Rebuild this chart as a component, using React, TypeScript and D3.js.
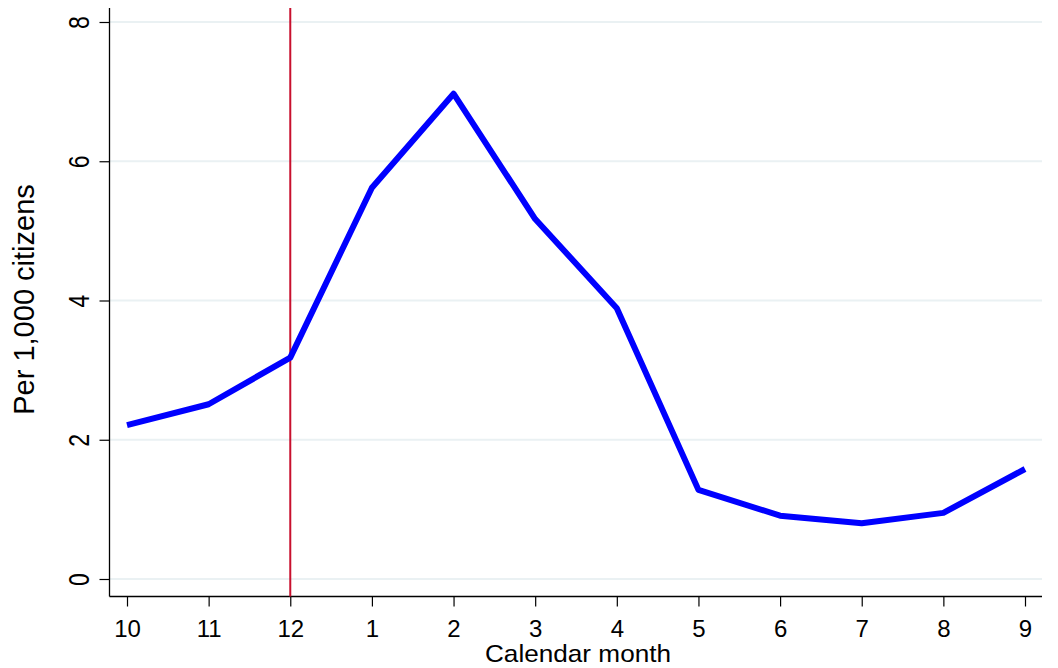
import React, { useRef, useEffect } from "react";
import * as d3 from "d3";

// calendar months, Oct through Sep
const months = ["10", "11", "12", "1", "2", "3", "4", "5", "6", "7", "8", "9"];
const perThousand = [2.21, 2.51, 3.18, 5.62, 6.97, 5.17, 3.89, 1.28, 0.91, 0.8, 0.95, 1.58];
const yTicks = [0, 2, 4, 6, 8];
const markerMonth = "12";

export default function App() {
  const svgRef = useRef<SVGSVGElement>(null);

  useEffect(() => {
    const svg = d3.select(svgRef.current);
    svg.selectAll("*").remove();

    const width = 1058;
    const height = 668;
    const font = "Arial, 'Liberation Sans', sans-serif";

    // frame of the plot region
    const left = 109.5;
    const right = 1042;
    const top = 8;
    const bottom = 596.5;

    const x = d3.scalePoint<string>().domain(months).range([127, 1025]);
    const y = d3.scaleLinear().domain([0, 8]).range([579, 22]);

    svg.attr("width", width).attr("height", height);
    svg.append("rect").attr("width", width).attr("height", height).attr("fill", "#fff");

    // gridlines
    svg
      .append("g")
      .selectAll("line")
      .data(yTicks)
      .join("line")
      .attr("x1", left)
      .attr("x2", right)
      .attr("y1", (d) => y(d))
      .attr("y2", (d) => y(d))
      .attr("stroke", "#eaf1f3")
      .attr("stroke-width", 2);

    // y axis (labels look a bit stretched across in the original)
    const yAxis = d3.axisLeft(y).tickValues(yTicks).tickSize(10).tickSizeOuter(0);
    const gy = svg
      .append("g")
      .attr("transform", `translate(${left},0)`)
      .call(yAxis);
    gy.select(".domain").remove();
    gy.selectAll("line").attr("stroke", "#000").attr("stroke-width", 1.2);
    gy.selectAll("text")
      .attr("font-family", font)
      .attr("font-size", 23)
      .attr("fill", "#000")
      .attr("text-anchor", "middle")
      .attr("transform", "translate(-20.5,0) rotate(-90) scale(1,1.25)")
      .attr("x", 0)
      .attr("dy", 0);

    svg
      .append("line")
      .attr("x1", left)
      .attr("x2", left)
      .attr("y1", top)
      .attr("y2", bottom)
      .attr("stroke", "#000")
      .attr("stroke-width", 1.3);

    // x axis
    const xAxis = d3.axisBottom(x).tickSize(10).tickSizeOuter(0);
    const gx = svg
      .append("g")
      .attr("transform", `translate(0,${bottom})`)
      .call(xAxis);
    gx.select(".domain").remove();
    gx.selectAll("line").attr("stroke", "#000").attr("stroke-width", 1.2);
    gx.selectAll("text")
      .attr("font-family", font)
      .attr("font-size", 24)
      .attr("fill", "#000")
      .attr("y", 40.5)
      .attr("dy", 0);

    svg
      .append("line")
      .attr("x1", left)
      .attr("x2", right)
      .attr("y1", bottom)
      .attr("y2", bottom)
      .attr("stroke", "#000")
      .attr("stroke-width", 1.3);

    // vertical reference line at December
    svg
      .append("line")
      .attr("x1", x(markerMonth)!)
      .attr("x2", x(markerMonth)!)
      .attr("y1", top)
      .attr("y2", bottom)
      .attr("stroke", "#c8102e")
      .attr("stroke-width", 2);

    // series line
    const line = d3
      .line<number>()
      .x((_, i) => x(months[i])!)
      .y((d) => y(d));

    svg
      .append("path")
      .datum(perThousand)
      .attr("fill", "none")
      .attr("stroke", "#0000ff")
      .attr("stroke-width", 6)
      .attr("stroke-linejoin", "round")
      .attr("d", line);

    // axis titles
    svg
      .append("text")
      .attr("transform", "translate(578,662) scale(1.09,1)")
      .attr("text-anchor", "middle")
      .attr("font-family", font)
      .attr("font-size", 24)
      .attr("fill", "#000")
      .text("Calendar month");

    svg
      .append("text")
      .attr("transform", `translate(34,299.5) rotate(-90)`)
      .attr("text-anchor", "middle")
      .attr("font-family", font)
      .attr("font-size", 29)
      .attr("fill", "#000")
      .text("Per 1,000 citizens");
  }, []);

  return (
    <div style={{ position: "absolute", left: 0, top: 0 }}>
      <svg ref={svgRef} style={{ display: "block" }} />
    </div>
  );
}
